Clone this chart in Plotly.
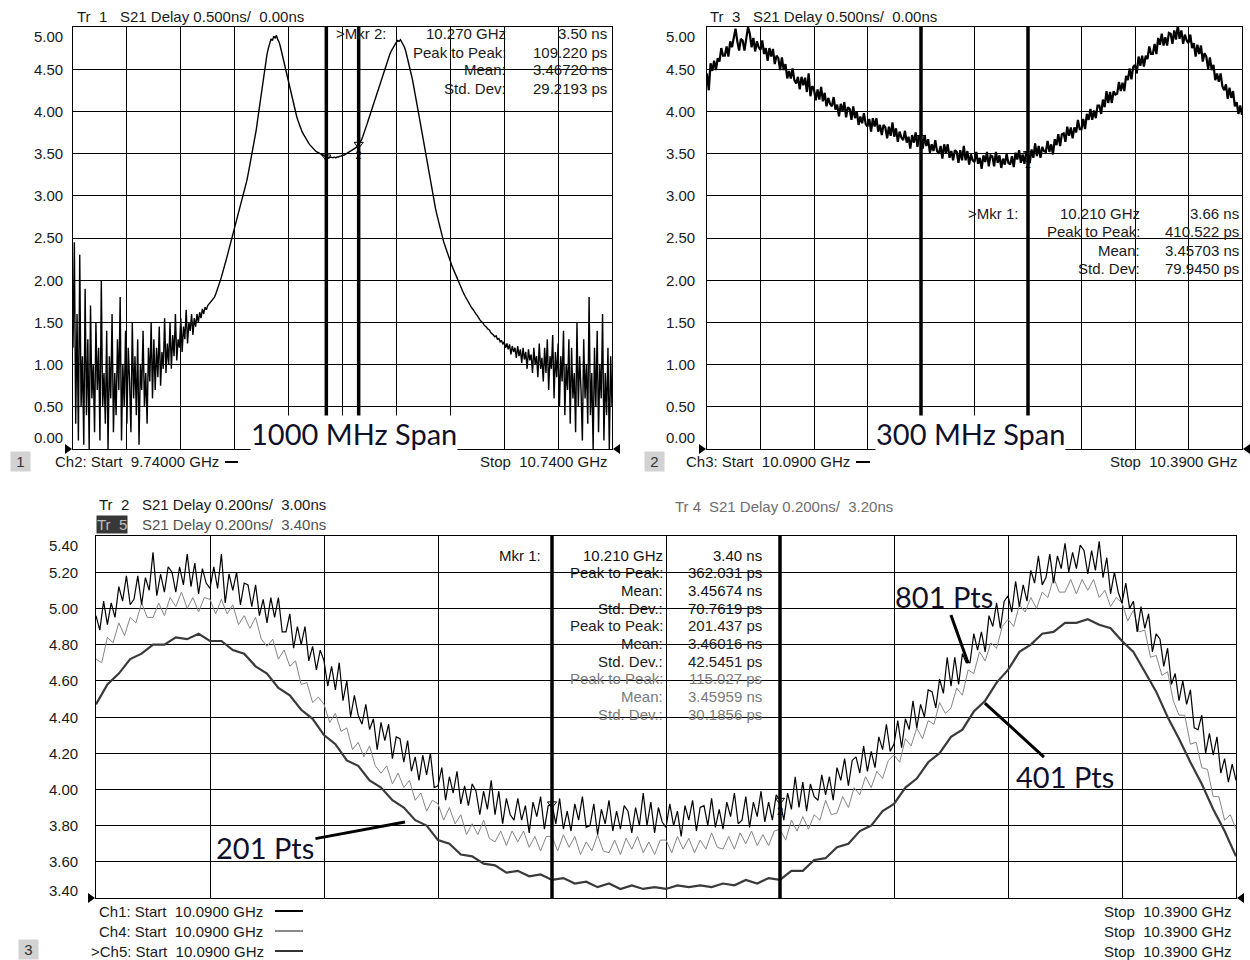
import numpy as np
import plotly.graph_objects as go

# ---------------- data ----------------
p1_start, p1_stop = 9.74, 10.74     # Ch2 sweep, GHz (1000 MHz span)
p2_start, p2_stop = 10.09, 10.39    # Ch3 sweep, GHz (300 MHz span)
p3_start, p3_stop = 10.09, 10.39    # Ch1/Ch4/Ch5 sweep, GHz
marker_freqs = [10.21, 10.27]       # Mkr 1, Mkr 2 (GHz)

p1_yticks = [0.00, 0.50, 1.00, 1.50, 2.00, 2.50, 3.00, 3.50, 4.00, 4.50, 5.00]
p3_yticks = [3.40, 3.60, 3.80, 4.00, 4.20, 4.40, 4.60, 4.80, 5.00, 5.20, 5.40]

# Tr 1: S21 delay, 1000 MHz span (ns)
p1_delay_ns = [
    1.20, 2.45, 0.30, 1.60, 0.10, 2.30, 0.50, 1.10, 0.05, 1.90,
    0.40, 1.30, 0.00, 1.70, 0.60, 1.00, 0.20, 1.50, 0.70, 1.20,
    0.10, 2.00, 0.50, 0.90, 0.30, 1.40, 0.00, 1.10, 0.60, 1.60,
    0.20, 0.90, 0.40, 1.30, 0.70, 1.80, 0.10, 1.00, 0.50, 1.40,
    0.30, 1.20, 0.80, 0.20, 1.50, 0.60, 1.10, 0.40, 1.30, 0.05,
    1.00, 0.70, 1.40, 0.50, 0.90, 0.30, 1.20, 0.80, 1.50, 0.60,
    1.30, 0.70, 1.20, 0.85, 1.45, 0.75, 1.15, 0.95, 1.55, 0.90,
    1.25, 1.00, 1.50, 0.95, 1.35, 1.10, 1.60, 1.05, 1.30, 1.20,
    1.55, 1.15, 1.45, 1.30, 1.65, 1.25, 1.50, 1.40, 1.60, 1.35,
    1.55, 1.45, 1.60, 1.50, 1.62, 1.55, 1.66, 1.60, 1.68, 1.65,
    1.70, 1.72, 1.74, 1.75, 1.78, 1.80, 1.84, 1.88, 1.93, 1.98,
    2.03, 2.08, 2.14, 2.20, 2.26, 2.32, 2.38, 2.44, 2.50, 2.56,
    2.62, 2.68, 2.74, 2.80, 2.86, 2.92, 2.98, 3.04, 3.10, 3.18,
    3.26, 3.34, 3.42, 3.50, 3.58, 3.67, 3.78, 3.90, 4.02, 4.14,
    4.26, 4.38, 4.49, 4.59, 4.68, 4.75, 4.80, 4.86, 4.84, 4.89,
    4.87, 4.90, 4.85, 4.82, 4.76, 4.69, 4.62, 4.55, 4.48, 4.41,
    4.34, 4.27, 4.20, 4.13, 4.06, 4.00, 3.94, 3.89, 3.84, 3.80,
    3.76, 3.73, 3.70, 3.67, 3.64, 3.62, 3.60, 3.58, 3.56, 3.55,
    3.53, 3.52, 3.51, 3.50, 3.49, 3.48, 3.47, 3.47, 3.46, 3.46,
    3.45, 3.46, 3.45, 3.45, 3.46, 3.45, 3.46, 3.46, 3.47, 3.47,
    3.48, 3.48, 3.49, 3.50, 3.50, 3.51, 3.52, 3.53, 3.54, 3.55,
    3.57, 3.59, 3.61, 3.63, 3.66, 3.70, 3.74, 3.79, 3.84, 3.89,
    3.94, 3.99, 4.04, 4.09, 4.14, 4.19, 4.24, 4.29, 4.34, 4.39,
    4.44, 4.49, 4.54, 4.59, 4.63, 4.67, 4.71, 4.74, 4.77, 4.80,
    4.82, 4.84, 4.83, 4.85, 4.82, 4.80, 4.76, 4.71, 4.65, 4.58,
    4.51, 4.44, 4.37, 4.29, 4.20, 4.11, 4.02, 3.93, 3.84, 3.75,
    3.66, 3.56, 3.46, 3.36, 3.26, 3.17, 3.08, 3.00, 2.92, 2.85,
    2.78, 2.71, 2.64, 2.58, 2.52, 2.46, 2.41, 2.36, 2.31, 2.26,
    2.22, 2.18, 2.14, 2.10, 2.06, 2.02, 1.98, 1.94, 1.90, 1.87,
    1.84, 1.81, 1.78, 1.75, 1.72, 1.70, 1.67, 1.65, 1.62, 1.60,
    1.58, 1.55, 1.53, 1.51, 1.50, 1.47, 1.46, 1.44, 1.42, 1.41,
    1.38, 1.37, 1.35, 1.33, 1.34, 1.30, 1.31, 1.27, 1.29, 1.24,
    1.27, 1.20, 1.25, 1.18, 1.24, 1.12, 1.22, 1.15, 1.20, 1.08,
    1.22, 1.10, 1.18, 1.02, 1.20, 1.06, 1.15, 0.95, 1.18, 1.05,
    1.12, 0.90, 1.20, 1.00, 1.10, 0.85, 1.25, 0.95, 1.08, 0.80,
    1.20, 0.90, 1.30, 0.70, 1.10, 0.95, 1.35, 0.60, 1.15, 0.85,
    1.25, 0.50, 1.10, 0.80, 1.40, 0.40, 1.00, 0.70, 1.30, 0.30,
    1.20, 0.60, 0.90, 0.20, 1.50, 0.50, 1.10, 0.70, 0.10, 1.30,
    0.60, 1.00, 0.30, 1.80, 0.40, 0.90, 0.00, 1.20, 0.50, 1.40,
    0.20, 1.00, 0.60, 1.60, 0.10, 0.90, 0.40, 1.20, 0.00, 1.10,
    0.50,
]

# Tr 3: S21 delay, 300 MHz span (ns)
p2_delay_ns = [
    4.45, 4.25, 4.57, 4.48, 4.60, 4.49, 4.63, 4.59, 4.75, 4.66,
    4.66, 4.77, 4.65, 4.83, 4.76, 4.88, 4.98, 4.83, 4.72, 4.86,
    4.84, 4.72, 4.87, 5.00, 4.92, 4.76, 4.87, 4.71, 4.83, 4.76,
    4.73, 4.84, 4.68, 4.75, 4.60, 4.75, 4.65, 4.74, 4.56, 4.66,
    4.63, 4.49, 4.64, 4.49, 4.56, 4.39, 4.48, 4.39, 4.51, 4.37,
    4.33, 4.41, 4.26, 4.41, 4.31, 4.40, 4.23, 4.45, 4.18, 4.30,
    4.26, 4.13, 4.26, 4.14, 4.29, 4.12, 4.22, 4.06, 4.16, 4.09,
    4.06, 4.17, 4.02, 4.08, 3.94, 4.09, 4.00, 4.11, 3.93, 4.05,
    4.03, 3.90, 4.06, 3.92, 4.00, 3.84, 3.94, 3.86, 3.98, 3.85,
    3.82, 3.91, 3.76, 3.92, 3.82, 3.92, 3.76, 3.84, 3.72, 3.84,
    3.81, 3.68, 3.82, 3.71, 3.87, 3.70, 3.80, 3.64, 3.76, 3.69,
    3.66, 3.77, 3.63, 3.70, 3.56, 3.72, 3.63, 3.75, 3.58, 3.71,
    3.69, 3.56, 3.72, 3.59, 3.67, 3.51, 3.61, 3.53, 3.66, 3.53,
    3.50, 3.59, 3.44, 3.61, 3.51, 3.61, 3.45, 3.53, 3.42, 3.54,
    3.52, 3.39, 3.54, 3.42, 3.59, 3.42, 3.53, 3.37, 3.49, 3.42,
    3.40, 3.52, 3.38, 3.45, 3.32, 3.48, 3.40, 3.52, 3.35, 3.48,
    3.47, 3.35, 3.52, 3.39, 3.48, 3.33, 3.44, 3.37, 3.50, 3.39,
    3.37, 3.47, 3.34, 3.51, 3.43, 3.54, 3.39, 3.49, 3.38, 3.52,
    3.50, 3.39, 3.55, 3.45, 3.62, 3.47, 3.59, 3.45, 3.58, 3.53,
    3.52, 3.65, 3.52, 3.61, 3.49, 3.67, 3.60, 3.73, 3.59, 3.73,
    3.74, 3.64, 3.82, 3.71, 3.81, 3.68, 3.81, 3.75, 3.90, 3.79,
    3.79, 3.91, 3.79, 3.97, 3.90, 4.03, 3.90, 4.01, 3.92, 4.07,
    4.07, 3.97, 4.14, 4.05, 4.24, 4.10, 4.23, 4.10, 4.24, 4.20,
    4.21, 4.35, 4.24, 4.34, 4.24, 4.42, 4.37, 4.51, 4.38, 4.53,
    4.55, 4.45, 4.65, 4.54, 4.66, 4.53, 4.66, 4.62, 4.77, 4.68,
    4.68, 4.80, 4.68, 4.87, 4.79, 4.92, 4.78, 4.88, 4.78, 4.93,
    4.92, 4.80, 4.96, 4.85, 5.02, 4.86, 4.96, 4.80, 4.91, 4.84,
    4.81, 4.91, 4.75, 4.81, 4.65, 4.79, 4.68, 4.78, 4.59, 4.69,
    4.65, 4.50, 4.64, 4.49, 4.55, 4.37, 4.45, 4.35, 4.45, 4.30,
    4.25, 4.32, 4.15, 4.28, 4.16, 4.24, 4.06, 4.11, 3.97, 4.07,
    3.96,
]

# Bottom window, displayed values on the Tr 5 scale (ns)
p3_801pts_ns = [
    4.96, 4.88, 5.04, 4.91, 5.03, 4.95, 5.12, 5.04, 5.18, 5.02,
    5.05, 5.18, 5.02, 5.17, 5.10, 5.31, 5.07, 5.19, 5.09, 5.23,
    5.20, 5.09, 5.23, 5.13, 5.30, 5.12, 5.25, 5.08, 5.22, 5.14,
    5.11, 5.23, 5.11, 5.30, 5.03, 5.19, 5.10, 5.20, 5.02, 5.14,
    5.13, 5.01, 5.13, 4.96, 5.05, 4.92, 5.06, 4.95, 5.06, 4.87,
    4.87, 4.97, 4.78, 4.90, 4.80, 4.90, 4.71, 4.79, 4.66, 4.77,
    4.71, 4.57, 4.68, 4.55, 4.70, 4.49, 4.60, 4.40, 4.52, 4.41,
    4.36, 4.47, 4.33, 4.39, 4.22, 4.37, 4.27, 4.36, 4.17, 4.29,
    4.28, 4.15, 4.27, 4.10, 4.18, 4.05, 4.19, 4.08, 4.20, 4.01,
    4.02, 4.12, 3.94, 4.07, 3.98, 4.10, 3.92, 4.02, 3.91, 4.03,
    3.99, 3.86, 3.99, 3.89, 4.05, 3.86, 3.99, 3.81, 3.95, 3.86,
    3.83, 3.95, 3.83, 3.91, 3.76, 3.93, 3.85, 3.96, 3.78, 3.91,
    3.92, 3.81, 3.95, 3.78, 3.88, 3.77, 3.92, 3.83, 3.96, 3.79,
    3.80, 3.92, 3.75, 3.89, 3.81, 3.94, 3.77, 3.88, 3.78, 3.91,
    3.88, 3.76, 3.90, 3.80, 3.98, 3.80, 3.93, 3.76, 3.90, 3.82,
    3.79, 3.92, 3.80, 3.88, 3.74, 3.91, 3.83, 3.94, 3.77, 3.90,
    3.91, 3.80, 3.95, 3.79, 3.89, 3.78, 3.93, 3.85, 3.98, 3.81,
    3.83, 3.96, 3.79, 3.93, 3.85, 3.99, 3.82, 3.93, 3.83, 3.97,
    3.94, 3.83, 3.98, 3.89, 4.07, 3.90, 4.04, 3.88, 4.03, 3.96,
    3.94, 4.08, 3.97, 4.07, 3.94, 4.12, 4.05, 4.17, 4.02, 4.16,
    4.18, 4.09, 4.24, 4.10, 4.21, 4.12, 4.29, 4.22, 4.36, 4.21,
    4.25, 4.38, 4.23, 4.39, 4.33, 4.49, 4.34, 4.47, 4.40, 4.55,
    4.54, 4.45, 4.61, 4.53, 4.73, 4.57, 4.73, 4.58, 4.75, 4.70,
    4.70, 4.86, 4.77, 4.87, 4.76, 4.96, 4.90, 5.03, 4.89, 5.04,
    5.07, 4.98, 5.15, 5.01, 5.13, 5.04, 5.21, 5.14, 5.29, 5.13,
    5.17, 5.30, 5.14, 5.29, 5.22, 5.36, 5.20, 5.31, 5.22, 5.35,
    5.32, 5.19, 5.32, 5.21, 5.37, 5.17, 5.28, 5.08, 5.20, 5.09,
    5.03, 5.14, 5.00, 5.04, 4.87, 5.01, 4.89, 4.97, 4.76, 4.86,
    4.83, 4.68, 4.78, 4.58, 4.64, 4.49, 4.60, 4.47, 4.55, 4.34,
    4.33, 4.41, 4.20, 4.31, 4.19, 4.29, 4.09, 4.17, 4.04, 4.14,
    4.05,
]

p3_401pts_ns = [
    4.72, 4.70, 4.84, 4.81, 4.92, 4.85, 4.95, 4.92, 5.03, 4.95,
    4.95, 5.03, 4.96, 5.06, 5.01, 5.09, 5.00, 5.06, 4.98, 5.06,
    5.05, 4.97, 5.05, 4.97, 5.02, 4.91, 4.96, 4.89, 4.95, 4.83,
    4.79, 4.83, 4.72, 4.77, 4.68, 4.71, 4.58, 4.59, 4.48, 4.51,
    4.47, 4.37, 4.42, 4.32, 4.34, 4.22, 4.26, 4.18, 4.24, 4.13,
    4.09, 4.13, 4.03, 4.09, 4.01, 4.05, 3.94, 3.98, 3.88, 3.94,
    3.92, 3.83, 3.90, 3.81, 3.86, 3.75, 3.81, 3.75, 3.83, 3.73,
    3.71, 3.77, 3.69, 3.77, 3.71, 3.77, 3.68, 3.74, 3.66, 3.74,
    3.74, 3.66, 3.75, 3.68, 3.74, 3.64, 3.71, 3.66, 3.75, 3.66,
    3.65, 3.72, 3.64, 3.73, 3.67, 3.74, 3.65, 3.71, 3.64, 3.72,
    3.72, 3.65, 3.74, 3.67, 3.73, 3.65, 3.72, 3.67, 3.76, 3.68,
    3.67, 3.74, 3.67, 3.76, 3.70, 3.77, 3.69, 3.75, 3.69, 3.77,
    3.78, 3.72, 3.83, 3.77, 3.85, 3.78, 3.86, 3.83, 3.94, 3.86,
    3.87, 3.96, 3.90, 4.01, 3.97, 4.07, 4.01, 4.10, 4.06, 4.16,
    4.19, 4.15, 4.28, 4.24, 4.34, 4.28, 4.38, 4.36, 4.48, 4.42,
    4.45, 4.56, 4.52, 4.66, 4.64, 4.76, 4.71, 4.81, 4.78, 4.90,
    4.94, 4.90, 5.02, 4.98, 5.06, 5.00, 5.09, 5.06, 5.17, 5.09,
    5.09, 5.16, 5.08, 5.16, 5.10, 5.16, 5.06, 5.10, 5.01, 5.06,
    5.03, 4.93, 4.99, 4.87, 4.88, 4.73, 4.74, 4.63, 4.65, 4.49,
    4.41, 4.41, 4.25, 4.26, 4.12, 4.11, 3.96, 3.96, 3.83, 3.86,
    3.78,
]

p3_201pts_ns = [
    4.47, 4.58, 4.64, 4.72, 4.75, 4.80, 4.80, 4.84, 4.83, 4.86,
    4.82, 4.82, 4.77, 4.75, 4.68, 4.64, 4.56, 4.52, 4.44, 4.39,
    4.30, 4.25, 4.16, 4.13, 4.05, 4.01, 3.94, 3.90, 3.83, 3.80,
    3.72, 3.70, 3.64, 3.63, 3.59, 3.58, 3.54, 3.55, 3.52, 3.53,
    3.50, 3.51, 3.48, 3.49, 3.46, 3.48, 3.45, 3.47, 3.45, 3.46,
    3.45, 3.47, 3.46, 3.47, 3.46, 3.48, 3.47, 3.50, 3.48, 3.51,
    3.50, 3.55, 3.55, 3.61, 3.62, 3.68, 3.70, 3.77, 3.80, 3.88,
    3.92, 4.01, 4.06, 4.15, 4.20, 4.29, 4.33, 4.43, 4.49, 4.59,
    4.66, 4.76, 4.80, 4.86, 4.87, 4.92, 4.92, 4.94, 4.91, 4.89,
    4.82, 4.76, 4.65, 4.54, 4.40, 4.28, 4.15, 4.03, 3.89, 3.77,
    3.63,
]

# where the "Pts" call-outs point (GHz, displayed ns) and text offsets (px)
callouts = [("201 Pts", 10.1713, 3.82, -140, 26),
            ("401 Pts", 10.3239, 4.477, 80, 73),
            ("801 Pts", 10.3195, 4.698, -24, -67)]

# ---------------- layout helpers ----------------
W, H = 1250, 960
FONT = "Liberation Sans, Arial, sans-serif"
BIG = "Lato, Open Sans, sans-serif"
NB = "\u00a0"


def fx(p):
    return p / W


def fy(p):
    return 1 - p / H


P1 = dict(x0=73, x1=612, y0=27, y1=449)
P2 = dict(x0=707, x1=1242, y0=27, y1=449)
P3 = dict(x0=96, x1=1236, y0=536, y1=898)

fig = go.Figure()

f1 = np.linspace(p1_start, p1_stop, len(p1_delay_ns))
f2 = np.linspace(p2_start, p2_stop, len(p2_delay_ns))
f3a = np.linspace(p3_start, p3_stop, len(p3_801pts_ns))
f3b = np.linspace(p3_start, p3_stop, len(p3_401pts_ns))
f3c = np.linspace(p3_start, p3_stop, len(p3_201pts_ns))

fig.add_trace(go.Scatter(x=f1, y=p1_delay_ns, mode="lines", line=dict(color="black", width=1.4),
                         xaxis="x", yaxis="y", hoverinfo="skip"))
fig.add_trace(go.Scatter(x=f2, y=p2_delay_ns, mode="lines", line=dict(color="black", width=2.2),
                         xaxis="x2", yaxis="y2", hoverinfo="skip"))
fig.add_trace(go.Scatter(x=f3c, y=p3_201pts_ns, mode="lines", line=dict(color="#3a3a3a", width=2.2),
                         xaxis="x3", yaxis="y3", hoverinfo="skip"))
fig.add_trace(go.Scatter(x=f3b, y=p3_401pts_ns, mode="lines", line=dict(color="#858585", width=1),
                         xaxis="x3", yaxis="y3", hoverinfo="skip"))
fig.add_trace(go.Scatter(x=f3a, y=p3_801pts_ns, mode="lines", line=dict(color="black", width=1.2),
                         xaxis="x3", yaxis="y3", hoverinfo="skip"))

ax_common = dict(showgrid=True, gridcolor="black", gridwidth=1, showline=True, linecolor="black",
                 linewidth=1, mirror=True, showticklabels=False, ticks="", zeroline=False,
                 fixedrange=True)


def dom(P):
    return [fx(P["x0"]), fx(P["x1"])], [fy(P["y1"]), fy(P["y0"])]


d1x, d1y = dom(P1)
d2x, d2y = dom(P2)
d3x, d3y = dom(P3)
fig.update_layout(
    xaxis=dict(ax_common, domain=d1x, range=[p1_start, p1_stop], tick0=p1_start, dtick=(p1_stop - p1_start) / 10),
    yaxis=dict(ax_common, domain=d1y, range=[p1_yticks[0], p1_yticks[-1]], tick0=0, dtick=0.5, anchor="x"),
    xaxis2=dict(ax_common, domain=d2x, range=[p2_start, p2_stop], tick0=p2_start, dtick=(p2_stop - p2_start) / 10, anchor="y2"),
    yaxis2=dict(ax_common, domain=d2y, range=[p1_yticks[0], p1_yticks[-1]], tick0=0, dtick=0.5, anchor="x2"),
    xaxis3=dict(ax_common, domain=d3x, range=[p3_start, p3_stop], tick0=p3_start, dtick=(p3_stop - p3_start) / 10, anchor="y3"),
    yaxis3=dict(ax_common, domain=d3y, range=[p3_yticks[0], p3_yticks[-1]], tick0=3.4, dtick=0.2, anchor="x3"),
)

# marker lines
for xa, ya in [("x", "y"), ("x2", "y2"), ("x3", "y3")]:
    for mf in marker_freqs:
        fig.add_shape(type="line", xref=xa, yref=ya + " domain", x0=mf, x1=mf, y0=0, y1=1,
                      line=dict(color="black", width=3.5))


def txt(x, y, s, anchor="left", size=15, color="#1a1a1a", family=FONT, **kw):
    fig.add_annotation(x=fx(x), y=fy(y), xref="paper", yref="paper", text=s.replace(" ", NB),
                       showarrow=False, xanchor=anchor, yanchor="middle",
                       font=dict(family=family, size=size, color=color), **kw)


# y tick labels
for ticks, yref, xr, s_top, s_bot in [(p1_yticks, "y", 65, -10, 11), (p1_yticks, "y2", 697, -10, 11),
                                      (p3_yticks, "y3", 80, -9, 8)]:
    for v in ticks:
        sh = s_top if v == ticks[-1] else (s_bot if v == ticks[0] else 0)
        fig.add_annotation(x=fx(xr), xref="paper", xanchor="right", y=v, yref=yref, yshift=sh,
                           yanchor="middle", text=f"{v:.2f}", showarrow=False,
                           font=dict(family=FONT, size=15, color="#1a1a1a"))

# headers
txt(75, 17, "Tr  1")
txt(118, 17, "S21 Delay 0.500ns/  0.00ns")
txt(708, 17, "Tr  3")
txt(751, 17, "S21 Delay 0.500ns/  0.00ns")
txt(97, 505, "Tr  2")
txt(140, 505, "S21 Delay 0.200ns/  3.00ns")
txt(96, 524, "Tr  5", color="#bdbdbd", bgcolor="#383838", borderpad=0)
txt(140, 524, "S21 Delay 0.200ns/  3.40ns", color="#505050")
txt(673, 506, "Tr 4", color="#6e6e6e")
txt(707, 506, "S21 Delay 0.200ns/  3.20ns", color="#6e6e6e")

# marker tables
rows1 = [(">Mkr 2:", "10.270 GHz", "3.50 ns"), ("", "Peak to Peak:", "109.220 ps"),
         ("", "Mean:", "3.46720 ns"), ("", "Std. Dev:", "29.2193 ps")]
for i, (a, b, c) in enumerate(rows1):
    y = 34 + 18 * i
    if a:
        txt(388, y, a, anchor="right")
    txt(508, y, b, anchor="right")
    txt(609, y, c, anchor="right")

rows2 = [(">Mkr 1:", "10.210 GHz", "3.66 ns"), ("", "Peak to Peak:", "410.522 ps"),
         ("", "Mean:", "3.45703 ns"), ("", "Std. Dev:", "79.9450 ps")]
for i, (a, b, c) in enumerate(rows2):
    y = 213 + 18.5 * i
    if a:
        txt(1020, y, a, anchor="right")
    txt(1142, y, b, anchor="right")
    txt(1241, y, c, anchor="right")

rows3 = [("Mkr 1:", "10.210 GHz", "3.40 ns", "#111111"),
         ("", "Peak to Peak:", "362.031 ps", "#111111"), ("", "Mean:", "3.45674 ns", "#111111"),
         ("", "Std. Dev.:", "70.7619 ps", "#111111"),
         ("", "Peak to Peak:", "201.437 ps", "#222222"), ("", "Mean:", "3.46016 ns", "#222222"),
         ("", "Std. Dev.:", "42.5451 ps", "#222222"),
         ("", "Peak to Peak:", "115.027 ps", "#7a7a7a"), ("", "Mean:", "3.45959 ns", "#7a7a7a"),
         ("", "Std. Dev.:", "30.1856 ps", "#7a7a7a")]
for i, (a, b, c, col) in enumerate(rows3):
    y = 555 + 17.7 * i
    if a:
        txt(543, y, a, anchor="right", color=col)
    txt(665, y, b, anchor="right", color=col)
    txt(764, y, c, anchor="right", color=col)

# bottom sweep labels
txt(53, 462, "Ch2: Start  9.74000 GHz")
txt(610, 462, "Stop  10.7400 GHz", anchor="right")
txt(684, 462, "Ch3: Start  10.0900 GHz")
txt(1240, 462, "Stop  10.3900 GHz", anchor="right")
for i, lab in enumerate(["Ch1: Start  10.0900 GHz", "Ch4: Start  10.0900 GHz", ">Ch5: Start  10.0900 GHz"]):
    y = 911 + 20 * i
    txt(97 if i < 2 else 89, y, lab)
    txt(1234, y, "Stop  10.3900 GHz", anchor="right")

# window number boxes
txt(10, 462, " 1 ", bgcolor="#d2d2d2", borderpad=1, color="#333333")
txt(644, 462, " 2 ", bgcolor="#d2d2d2", borderpad=1, color="#333333")
txt(18, 949, " 3 ", bgcolor="#d2d2d2", borderpad=1, color="#333333")

# legend line samples
for x0, x1, y, col in [(225, 238, 462, "black"), (856, 870, 462, "black"),
                       (275, 303, 911, "black"), (275, 303, 931, "#8a8a8a"), (275, 303, 951, "#333333")]:
    fig.add_shape(type="line", xref="paper", yref="paper", x0=fx(x0), x1=fx(x1), y0=fy(y), y1=fy(y),
                  line=dict(color=col, width=2))

# reference-level arrows at window corners
for xa, ya in [("x", "y"), ("x2", "y2"), ("x3", "y3")]:
    fig.add_shape(type="path", xref=xa + " domain", yref=ya + " domain", xsizemode="pixel", ysizemode="pixel",
                  xanchor=0, yanchor=0, path="M -8,-5 L -1,0 L -8,5 Z", fillcolor="black", line=dict(width=0))
    fig.add_shape(type="path", xref=xa + " domain", yref=ya + " domain", xsizemode="pixel", ysizemode="pixel",
                  xanchor=1, yanchor=0, path="M 8,-5 L 1,0 L 8,5 Z", fillcolor="black", line=dict(width=0))

# marker symbols on traces
for fq, vals, xa, ya in [(f1, p1_delay_ns, "x", "y"), (f2, p2_delay_ns, "x2", "y2"),
                         (f3a, p3_801pts_ns, "x3", "y3")]:
    mv = [float(np.interp(m, fq, vals)) for m in marker_freqs]
    fig.add_trace(go.Scatter(x=marker_freqs, y=mv, mode="markers+text", text=["", "2"],
                             textposition="bottom center", textfont=dict(family=FONT, size=11, color="black"),
                             marker=dict(symbol="triangle-down-open", size=8, color="black", line=dict(width=1)),
                             xaxis=xa, yaxis=ya, hoverinfo="skip", cliponaxis=False))

# big annotations
txt(354, 433, "1000 MHz Span", anchor="center", size=29, family=BIG, color="#10102a", bgcolor="white", borderpad=0)
txt(970, 433, "300 MHz Span", anchor="center", size=29, family=BIG, color="#10102a", bgcolor="white", borderpad=0)
for lab, fxv, fyv, axp, ayp in callouts:
    fig.add_annotation(x=fxv, y=fyv, xref="x3", yref="y3", ax=axp, ay=ayp, text=lab.replace(" ", NB),
                       showarrow=True, arrowhead=0, arrowwidth=3, arrowcolor="black", standoff=0,
                       font=dict(family=BIG, size=29, color="#10102a"))

fig.update_layout(width=W, height=H, margin=dict(l=0, r=0, t=0, b=0), paper_bgcolor="white",
                  plot_bgcolor="white", showlegend=False, hovermode=False)

fig.write_html("out.html", config={"displayModeBar": False},
               post_script="document.body.style.margin='0';")
